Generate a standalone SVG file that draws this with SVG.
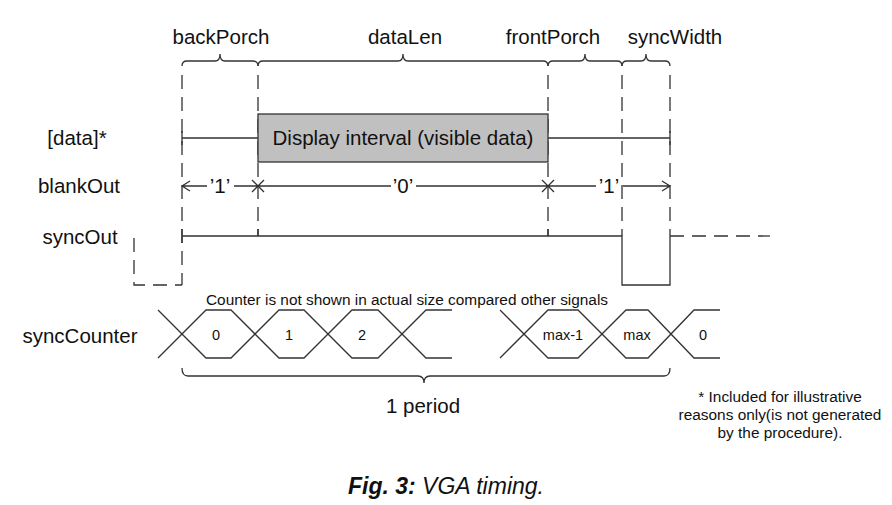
<svg xmlns="http://www.w3.org/2000/svg" width="892" height="505" viewBox="0 0 892 505">
<style>
text{font-family:"Liberation Sans",Arial,sans-serif;fill:#111}
.lbl{font-size:20.5px;text-anchor:middle}
.sm{font-size:15.4px;text-anchor:middle}
.cnt{font-size:14.5px;text-anchor:middle}
.ln{stroke:#333;stroke-width:1.3;fill:none}
.dash{stroke:#333;stroke-width:1.3;fill:none;stroke-dasharray:14 8}
</style>
<rect width="892" height="505" fill="#fff"/>
<g id="labels">
<text class="lbl" x="221" y="44">backPorch</text>
<text class="lbl" x="405" y="44">dataLen</text>
<text class="lbl" x="553" y="44">frontPorch</text>
<text class="lbl" x="675" y="44">syncWidth</text>
<text class="lbl" x="77" y="145">[data]*</text>
<text class="lbl" x="79" y="193">blankOut</text>
<text class="lbl" x="80" y="244">syncOut</text>
<text class="lbl" x="80" y="343">syncCounter</text>
</g>
<g id="braces" class="ln">
<path d="M182,66 Q182,61 187,61 L215,61 Q220,61 220,54 Q220,61 225,61 L253,61 Q258,61 258,66"/>
<path d="M258,66 Q258,61 263,61 L398,61 Q403,61 403,54 Q403,61 408,61 L543,61 Q548,61 548,66"/>
<path d="M548,66 Q548,61 553,61 L580,61 Q585,61 585,54 Q585,61 590,61 L617,61 Q622,61 622,66"/>
<path d="M622,66 Q622,61 627,61 L641,61 Q646,61 646,54 Q646,61 651,61 L665,61 Q670,61 670,66"/>
<path d="M182,368 Q182,376 188,376 L418,376 Q424,376 424,383 Q424,376 430,376 L664,376 Q670,376 670,368"/>
</g>
<g id="guides" class="dash">
<line x1="182" y1="75" x2="182" y2="285"/>
<line x1="258" y1="75" x2="258" y2="236"/>
<line x1="548" y1="75" x2="548" y2="236"/>
<line x1="622" y1="75" x2="622" y2="236"/>
<line x1="670" y1="75" x2="670" y2="236"/>
</g>
<g id="data">
<rect x="258" y="114" width="290" height="48" fill="#c0c0c0" stroke="#333" stroke-width="1.3"/>
<text x="403" y="145" class="lbl">Display interval (visible data)</text>
<path class="ln" d="M182,138 H258 M182,131 V145 M548,138 H670 M670,131 V145"/>
</g>
<g id="blankOut">
<path class="ln" d="M182,186 H207 M234,186 H258 M258,186 H391 M416,186 H548 M548,186 H596 M623,186 H670 M190,181 L182,186 L190,191 M662,181 L670,186 L662,191 M252,180 L264,192 M252,192 L264,180 M542,180 L554,192 M542,192 L554,180"/>
<text class="lbl" x="220" y="193">’1’</text>
<text class="lbl" x="403" y="193">’0’</text>
<text class="lbl" x="609" y="193">’1’</text>
</g>
<g id="syncOut">
<path class="ln" d="M182,229 V243 M182,236 H622 V285 H670 V236"/>
<path class="ln" d="M258,229 V236 M548,229 V236"/>
<path class="dash" d="M670,236 H770"/>
<path class="dash" d="M134,238 V285 H182"/>
</g>
<g id="syncCounter">
<text class="sm" x="407" y="305">Counter is not shown in actual size compared other signals</text>
<path class="ln" d="M158,310 L206,358 H231 L279,310 H304 L352,358 H378 L426,310 H452"/>
<path class="ln" d="M158,358 L206,310 H231 L279,358 H304 L352,310 H378 L426,358 H452"/>
<path class="ln" d="M500,358 L548,310 H578 L626,358 H648 L694,310 H720"/>
<path class="ln" d="M500,310 L548,358 H578 L626,310 H648 L694,358 H720"/>
<text class="cnt" x="216" y="340">0</text>
<text class="cnt" x="289" y="340">1</text>
<text class="cnt" x="362" y="340">2</text>
<text class="cnt" x="563" y="340">max-1</text>
<text class="cnt" x="637" y="340">max</text>
<text class="cnt" x="703" y="340">0</text>
</g>
<g id="period">
<text class="lbl" x="423" y="413">1 period</text>
</g>
<g id="note">
<text class="sm" x="780" y="402">* Included for illustrative</text>
<text class="sm" x="780" y="420">reasons only(is not generated</text>
<text class="sm" x="780" y="438">by the procedure).</text>
</g>
<g id="caption">
<text x="446" y="494" style="font-size:23px;text-anchor:middle;font-style:italic"><tspan font-weight="bold">Fig. 3:</tspan> VGA timing.</text>
</g>
</svg>
